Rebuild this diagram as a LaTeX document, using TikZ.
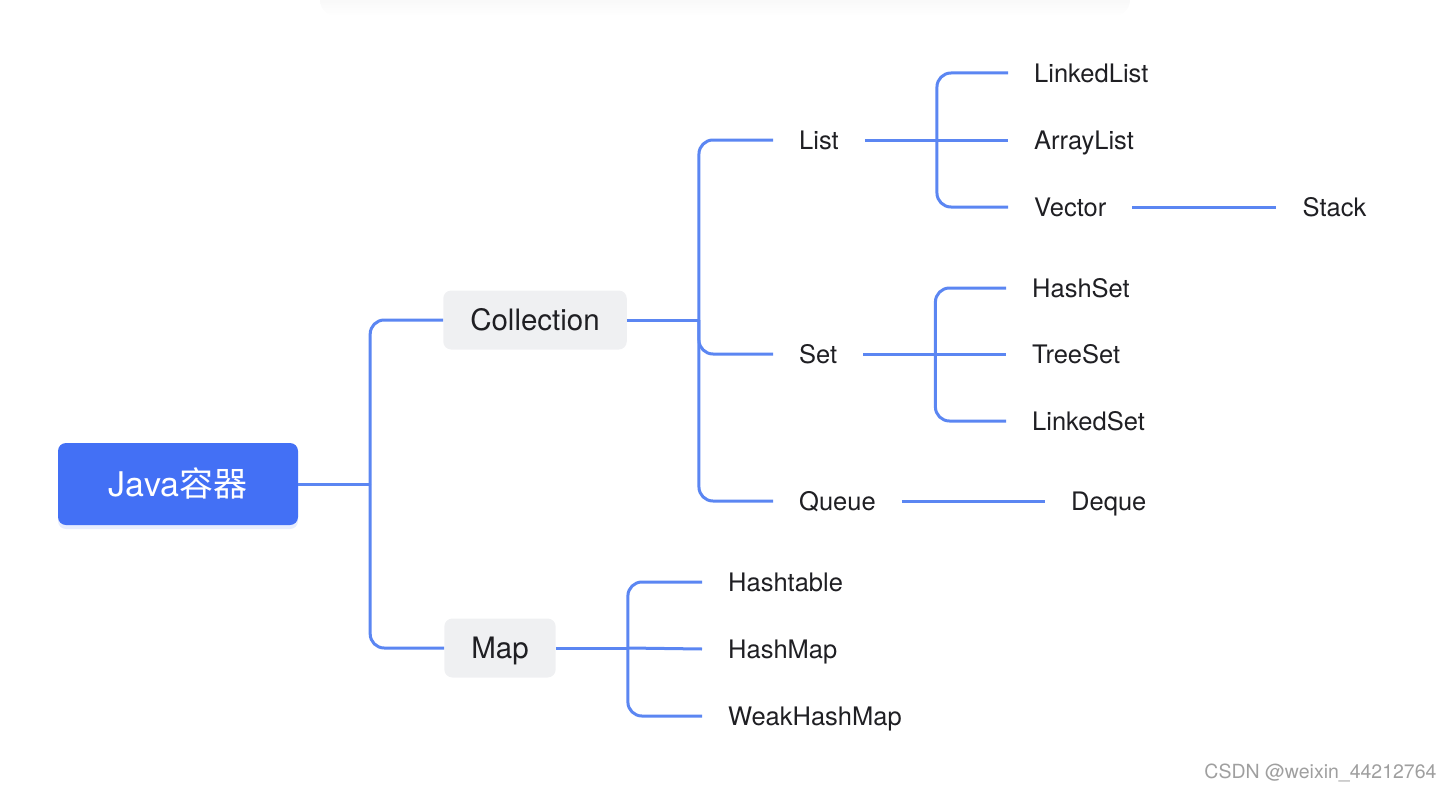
\documentclass[tikz,border=0pt]{standalone}
\usepackage{fontspec}
\setmainfont{TeX Gyre Heros}
\newfontfamily\cjk{Noto Sans CJK SC}
\usepackage{tikz}
\usetikzlibrary{positioning}
\usetikzlibrary{shadows}

\definecolor{rootblue}{RGB}{67,112,245}
\definecolor{linkblue}{RGB}{91,134,242}
\definecolor{boxgray}{RGB}{239,240,242}
\definecolor{inkdark}{RGB}{31,31,35}

\begin{document}
\begin{tikzpicture}[x=1pt,y=-1pt,
	link/.style={draw=linkblue,line width=3pt,rounded corners=14pt},
	root node/.style={rectangle,rounded corners=8pt,fill=rootblue,text=white,
		font=\fontsize{34}{40}\selectfont,text height=24pt,text depth=0pt,
		minimum width=240pt,minimum height=82pt,
		drop shadow={shadow xshift=0pt,shadow yshift=-4pt,opacity=.25,fill=rootblue!50}},
	cat node/.style={rectangle,rounded corners=8pt,fill=boxgray,text=inkdark,
		font=\fontsize{29.5}{34}\selectfont,text height=21pt,text depth=0pt,
		inner xsep=27pt,minimum height=59pt},
	leaf node/.style={text=inkdark,font=\fontsize{25.5}{30}\selectfont,
		text height=18pt,text depth=0pt,inner xsep=26pt,anchor=west}]

	\useasboundingbox (0,0) rectangle (1454,792);
	\shade[top color=black!5,bottom color=white,rounded corners=16pt] (320,-16) rectangle (1130,16);

	\node[root node] (root) at (178,484) {Java{\cjk 容器}};
	\node[cat node] (coll) at (535,320) {Collection};
	\node[cat node] (map) at (500,648) {Map};

	\node[leaf node] (list) at (773,140) {List};
	\node[leaf node] (set) at (773,354) {Set};
	\node[leaf node] (queue) at (773,501) {Queue};

	\node[leaf node] (llist) at (1008,73) {LinkedList};
	\node[leaf node] (alist) at (1008,140) {ArrayList};
	\node[leaf node] (vec) at (1008,207) {Vector};
	\node[leaf node] (stack) [right=144pt of vec] {Stack};

	\node[leaf node] (hset) at (1006,288) {HashSet};
	\node[leaf node] (tset) at (1006,354) {TreeSet};
	\node[leaf node] (lset) at (1006,421) {LinkedSet};

	\node[leaf node] (deque) [right=143pt of queue] {Deque};

	\node[leaf node] (htab) at (702,582) {Hashtable};
	\node[leaf node] (hmap) at (702,649) {HashMap};
	\node[leaf node] (whmap) at (702,716) {WeakHashMap};

	\node[anchor=east,text=gray!75,font=\fontsize{19.5}{22}\selectfont] (mark)
		at (1440,773) {CSDN @weixin\_44212764};

	% root
	\draw[link] (root.east) -- ++(72,0) coordinate (jr);
	\draw[link] (jr) |- (coll.west);
	\draw[link] (jr) |- (map.west);

	% collection
	\draw[link] (coll.east) -- ++(72,0) coordinate (jc);
	\draw[link] (jc) |- (list.west);
	\draw[link] (jc) |- (set.west);
	\draw[link] (jc) |- (queue.west);

	% list
	\draw[link] (list.east) -- ++(72,0) coordinate (jl);
	\draw[link] (jl) |- (llist.west);
	\draw[link] (jl) -- (alist.west);
	\draw[link] (jl) |- (vec.west);
	\draw[link] (vec) -- (stack);

	% set
	\draw[link] (set.east) -- ++(72,0) coordinate (js);
	\draw[link] (js) |- (hset.west);
	\draw[link] (js) -- (tset.west);
	\draw[link] (js) |- (lset.west);

	\draw[link] (queue) -- (deque);

	% map
	\draw[link] (map.east) -- ++(72,0) coordinate (jm);
	\draw[link] (jm) |- (htab.west);
	\draw[link] (jm) -- (hmap.west);
	\draw[link] (jm) |- (whmap.west);
\end{tikzpicture}
\end{document}
